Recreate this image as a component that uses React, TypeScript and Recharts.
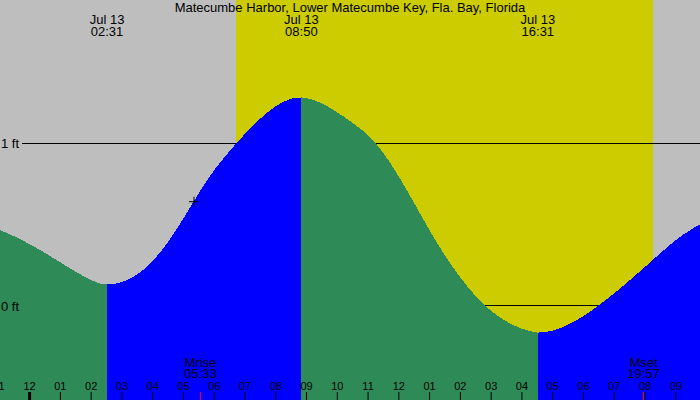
import React from 'react';
import { ComposedChart, Area, XAxis, YAxis, Scatter } from 'recharts';

const W = 700;
const H = 400;
const FONT = '"Liberation Sans", Arial, Helvetica, sans-serif';

const title = 'Matecumbe Harbor, Lower Matecumbe Key, Fla. Bay, Florida';

// hours relative to local midnight, Jul 13
const hourDomain: [number, number] = [-0.962, 21.787];
const feetDomain: [number, number] = [-0.578, 1.881];

const hourTicks = [-1, 0, 1, 2, 3, 4, 5, 6, 7, 8, 9, 10, 11, 12, 13, 14, 15, 16, 17, 18, 19, 20, 21];
const hourLabels = ['11', '12', '01', '02', '03', '04', '05', '06', '07', '08', '09', '10', '11', '12', '01', '02', '03', '04', '05', '06', '07', '08', '09'];
const midnightTicks = [0];

const extremeHours = [2.517, 8.833, 16.517];
const extremeDates = ['Jul 13', 'Jul 13', 'Jul 13'];
const extremeTimes = ['02:31', '08:50', '16:31'];

const moonHours = [5.55, 19.95];
const moonNames = ['Mrise', 'Mset'];
const moonTimes = ['05:33', '19:57'];

const sunriseHour = 6.7;
const sunsetHour = 20.27;

const levelTicks = [0, 1];
const levelLabels = ['0 ft', '1 ft'];
const levelLineStartHour = -0.244;

const nowHour = 5.343;
const nowFeet = 0.641;

// falling tide before the 02:31 low
const ebb1Hours = [-0.962, -0.5, 0, 0.5, 1, 1.5, 2, 2.25, 2.517];
const ebb1Feet = [0.467, 0.428, 0.38, 0.326, 0.268, 0.21, 0.16, 0.14, 0.132];
// rising tide to the 08:50 high
const flood1Hours = [2.517, 3, 3.5, 4, 4.5, 5, 5.5, 6, 6.5, 7, 7.5, 8, 8.5, 8.833];
const flood1Feet = [0.132, 0.147, 0.194, 0.277, 0.394, 0.539, 0.694, 0.835, 0.952, 1.058, 1.152, 1.228, 1.274, 1.282];
// falling tide to the 16:31 low
const ebb2Hours = [8.833, 9, 9.5, 10, 10.5, 11, 11.5, 12, 12.5, 13, 13.5, 14, 14.5, 15, 15.5, 16, 16.517];
const ebb2Feet = [1.282, 1.278, 1.245, 1.19, 1.125, 1.05, 0.94, 0.795, 0.632, 0.465, 0.31, 0.175, 0.06, -0.03, -0.095, -0.14, -0.164];
// rising tide after the 16:31 low
const flood2Hours = [16.517, 17, 17.5, 18, 18.5, 19, 19.5, 20, 20.5, 21, 21.5, 21.787];
const flood2Feet = [-0.164, -0.152, -0.115, -0.062, 0.005, 0.078, 0.158, 0.24, 0.325, 0.405, 0.47, 0.502];

const zip = (hs: number[], fs: number[]) => hs.map((h, i) => ({ h, ft: fs[i] }));

const ebb1Data = zip(ebb1Hours, ebb1Feet);
const flood1Data = zip(flood1Hours, flood1Feet);
const ebb2Data = zip(ebb2Hours, ebb2Feet);
const flood2Data = zip(flood2Hours, flood2Feet);
const dayData = [
  { h: sunriseHour, ft: feetDomain[1] },
  { h: sunsetHour, ft: feetDomain[1] },
];
const levelData = levelTicks.map((v) => [
  { h: levelLineStartHour, ft: v },
  { h: hourDomain[1], ft: v },
]);
const nowData = [{ h: nowHour, ft: nowFeet }];
const moonAnchorData = moonHours.map((h) => ({ h, ft: 0 }));
const extremeAnchorData = extremeHours.map((h) => ({ h, ft: 0 }));

const NIGHT = '#BEBEBE';
const DAY = '#CCCC00';
const EBB = '#2E8B57';
const FLOOD = '#0000FF';

// axes are 1px tall mirrored axes; ticks are drawn relative to the chart bottom
const HourTick = (props: any) => {
  const { x, payload } = props;
  const base = props.y;
  const i = hourTicks.indexOf(payload.value);
  const thick = midnightTicks.includes(payload.value);
  return (
    <g>
      <line x1={x} x2={x} y1={base - 8} y2={base} stroke="#000" strokeWidth={thick ? 3 : 1} />
      <text x={x} y={base - 10.5} textAnchor="middle" fontSize={11} fontFamily={FONT} fill="#000">
        {hourLabels[i]}
      </text>
    </g>
  );
};

const MoonTick = (props: any) => {
  const { x, payload } = props;
  const base = props.y + 1;
  const i = moonHours.indexOf(payload.value);
  return (
    <g>
      <line x1={x} x2={x} y1={base - 8} y2={base} stroke="#FF0000" strokeWidth={1} />
      <text x={x} y={base - 33.3} textAnchor="middle" fontSize={13} fontFamily={FONT} fill="#000">
        {moonNames[i]}
      </text>
      <text x={x} y={base - 22} textAnchor="middle" fontSize={13} fontFamily={FONT} fill="#000">
        {moonTimes[i]}
      </text>
    </g>
  );
};

const ExtremeTick = (props: any) => {
  const { x, y, payload } = props;
  const i = extremeHours.indexOf(payload.value);
  return (
    <g>
      <text x={x} y={y + 24} textAnchor="middle" fontSize={13} fontFamily={FONT} fill="#000">
        {extremeDates[i]}
      </text>
      <text x={x} y={y + 36} textAnchor="middle" fontSize={13} fontFamily={FONT} fill="#000">
        {extremeTimes[i]}
      </text>
    </g>
  );
};

const LevelTick = (props: any) => {
  const { x, y, payload } = props;
  const i = levelTicks.indexOf(payload.value);
  return (
    <text x={x + 1} y={y + 4.6} textAnchor="start" fontSize={13} fontFamily={FONT} fill="#000">
      {levelLabels[i]}
    </text>
  );
};

const PlusShape = (props: any) => {
  const { cx, cy } = props;
  return (
    <g>
      <line x1={cx - 5} x2={cx + 5} y1={cy} y2={cy} stroke="#000" strokeWidth={1} />
      <line x1={cx} x2={cx} y1={cy - 5} y2={cy + 5} stroke="#000" strokeWidth={1} />
    </g>
  );
};

const NoShape = () => <g />;

const commonX = {
  type: 'number' as const,
  dataKey: 'h',
  domain: hourDomain,
  allowDataOverflow: true,
  interval: 0 as const,
  mirror: true,
  height: 1,
  axisLine: false,
  tickLine: false,
  tickSize: 0,
  tickMargin: 0,
};

export default function App() {
  return (
    <div style={{ position: 'absolute', left: 0, top: 0, width: W, height: H, background: NIGHT }}>
      <ComposedChart width={W} height={H} margin={{ top: 0, right: 0, bottom: 0, left: 0 }}>
        <XAxis xAxisId="hours" {...commonX} ticks={hourTicks} orientation="bottom" tick={HourTick} />
        <XAxis xAxisId="moon" {...commonX} ticks={moonHours} orientation="bottom" tick={MoonTick} />
        <XAxis xAxisId="tides" {...commonX} ticks={extremeHours} orientation="top" tick={ExtremeTick} />
        <YAxis
          type="number"
          dataKey="ft"
          domain={feetDomain}
          allowDataOverflow
          ticks={levelTicks}
          interval={0}
          orientation="left"
          mirror
          width={1}
          axisLine={false}
          tickLine={false}
          tickSize={0}
          tickMargin={0}
          tick={LevelTick}
        />
        <Area xAxisId="hours" data={dayData} dataKey="ft" type="linear" baseValue="dataMin" fill={DAY} fillOpacity={1} stroke="none" shapeRendering="crispEdges" dot={false} activeDot={false} isAnimationActive={false} />
        {levelData.map((d, i) => (
          <Area key={'lvl' + i} xAxisId="hours" data={d} dataKey="ft" type="linear" fill="none" stroke="#000" strokeWidth={1} shapeRendering="crispEdges" dot={false} activeDot={false} isAnimationActive={false} />
        ))}
        <Area xAxisId="hours" data={ebb1Data} dataKey="ft" type="monotone" baseValue="dataMin" fill={EBB} fillOpacity={1} stroke="none" shapeRendering="crispEdges" dot={false} activeDot={false} isAnimationActive={false} />
        <Area xAxisId="hours" data={flood1Data} dataKey="ft" type="monotone" baseValue="dataMin" fill={FLOOD} fillOpacity={1} stroke="none" shapeRendering="crispEdges" dot={false} activeDot={false} isAnimationActive={false} />
        <Area xAxisId="hours" data={ebb2Data} dataKey="ft" type="monotone" baseValue="dataMin" fill={EBB} fillOpacity={1} stroke="none" shapeRendering="crispEdges" dot={false} activeDot={false} isAnimationActive={false} />
        <Area xAxisId="hours" data={flood2Data} dataKey="ft" type="monotone" baseValue="dataMin" fill={FLOOD} fillOpacity={1} stroke="none" shapeRendering="crispEdges" dot={false} activeDot={false} isAnimationActive={false} />
        <Scatter xAxisId="hours" data={nowData} dataKey="ft" shape={PlusShape} isAnimationActive={false} />
        <Scatter xAxisId="moon" data={moonAnchorData} dataKey="ft" shape={NoShape} isAnimationActive={false} />
        <Scatter xAxisId="tides" data={extremeAnchorData} dataKey="ft" shape={NoShape} isAnimationActive={false} />
      </ComposedChart>
      <div
        style={{
          position: 'absolute',
          left: 0,
          top: 0,
          width: W,
          textAlign: 'center',
          fontFamily: FONT,
          fontSize: 13,
          lineHeight: '15px',
          color: '#000',
          pointerEvents: 'none',
        }}
      >
        {title}
      </div>
    </div>
  );
}
